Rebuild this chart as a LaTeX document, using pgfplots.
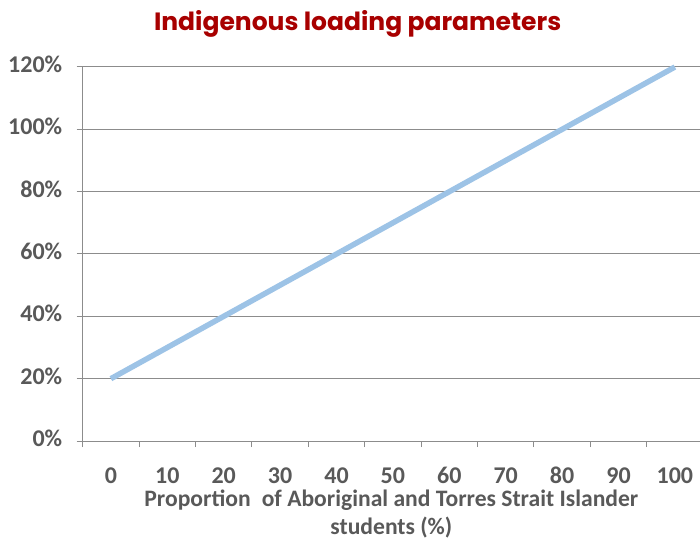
\documentclass[border=0pt]{standalone}
\usepackage{pgfplots}
\pgfplotsset{compat=1.18}
\usepackage{fontspec}
\setmainfont{Carlito}
\newfontfamily\titlefont{Poppins}
\definecolor{titlered}{RGB}{168,0,0}
\definecolor{labgray}{RGB}{89,89,89}
\definecolor{gridgray}{RGB}{140,140,140}
\definecolor{lineblue}{RGB}{157,195,230}
\begin{document}
\begin{tikzpicture}
\useasboundingbox (-82.7bp,-99bp) rectangle (617.3bp,441bp);
\begin{axis}[
  at={(0,0)}, anchor=south west,
  scale only axis, width=617.3bp, height=374bp,
  xmin=-0.5, xmax=10.445, ymin=0, ymax=120,
  axis x line*=bottom, axis y line*=left,
  axis line style={draw=gridgray, line width=1bp},
  tick align=outside, major tick length=6bp,
  tick style={draw=gridgray, line width=1bp},
  typeset ticklabels with strut,
  xtick={-0.5,0.5,1.5,2.5,3.5,4.5,5.5,6.5,7.5,8.5,9.5},
  xticklabels={},
  extra x ticks={0,1,2,3,4,5,6,7,8,9,10},
  extra x tick labels={0,10,20,30,40,50,60,70,80,90,100},
  extra x tick style={major tick length=0pt, tick style={draw=none},
    xticklabel style={yshift=-19bp}},
  ytick={0,20,40,60,80,100,120},
  yticklabels={0\%,20\%,40\%,60\%,80\%,100\%,120\%},
  yticklabel style={xshift=-11bp},
  ymajorgrids,
  major grid style={draw=gridgray, line width=1bp},
  ticklabel style={font=\fontsize{24bp}{28bp}\selectfont\bfseries, text=labgray},
  title={Indigenous loading parameters},
  title style={font=\titlefont\fontsize{25bp}{30bp}\selectfont\bfseries, text=titlered,
    at={(axis description cs:0.5,1)}, anchor=base, xshift=-33.7bp, yshift=31bp},
  xlabel={Proportion\hspace{0.47em}of Aboriginal and Torres Strait Islander\\students (\%)},
  xlabel style={font=\fontsize{23.6bp}{28bp}\selectfont\bfseries, text=labgray,
    at={(axis description cs:0.5,0)}, anchor=center, yshift=-73bp, align=center},
  clip=false,
]
\addplot[lineblue, line width=5.5bp] coordinates {
  (0,20) (1,30) (2,40) (3,50) (4,60) (5,70) (6,80) (7,90) (8,100) (9,110) (10,120)
};
\end{axis}
\end{tikzpicture}
\end{document}
